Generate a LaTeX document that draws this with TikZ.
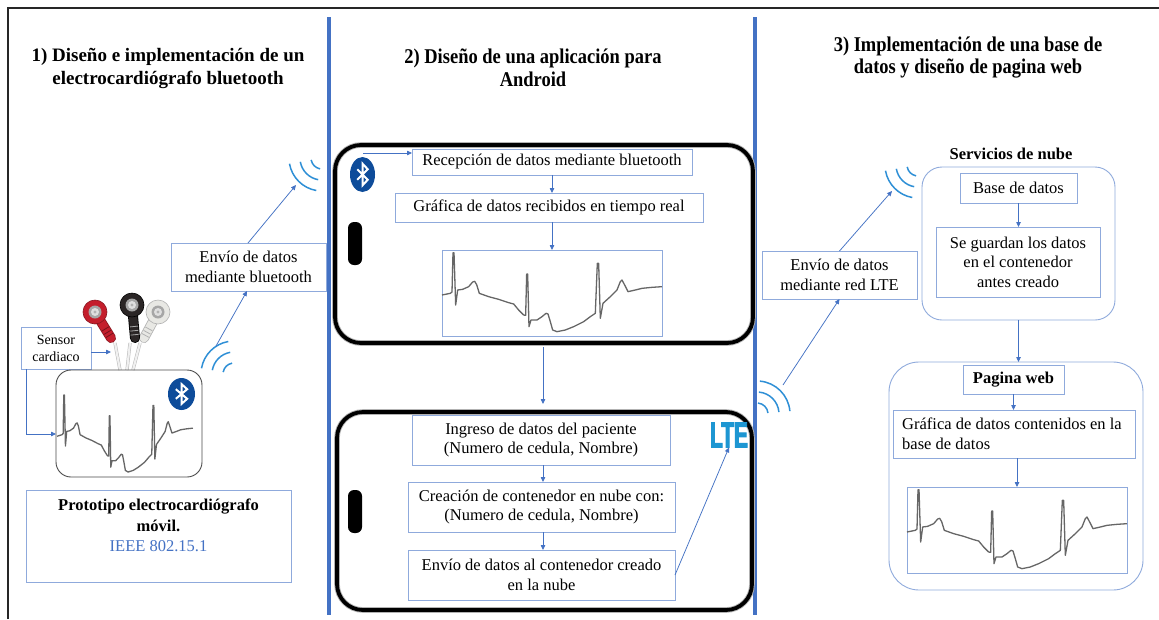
\documentclass[tikz,border=0pt]{standalone}
\usepackage{fontspec}
\setmainfont{Liberation Serif}
\newfontfamily\condserif[FakeStretch=0.88]{Liberation Serif}
\newfontfamily\ltesans[FakeStretch=0.58,BoldFeatures={FakeBold=2.5}]{Liberation Sans}
\usetikzlibrary{arrows.meta}

\definecolor{divblue}{HTML}{4472C4}
\definecolor{boxblue}{HTML}{8FAADC}
\definecolor{arrblue}{HTML}{4472C4}
\definecolor{waveblue}{HTML}{2E8FD6}
\definecolor{btblue}{HTML}{0E4C9A}
\definecolor{ecggray}{HTML}{666666}
\definecolor{ltecyan}{HTML}{1D96D2}
\definecolor{snapred}{HTML}{C41E2C}
\definecolor{snapblack}{HTML}{2B2626}
\definecolor{snapwhite}{HTML}{E8E8E4}

\newcommand\bodyfont{\fontsize{16.5}{19.5}\selectfont}
\newcommand\sensorfont{\fontsize{14}{17}\selectfont}
\newcommand\titlefont{\fontsize{19}{23}\selectfont\bfseries}
\newcommand\titlefontc{\condserif\fontsize{21}{22.5}\selectfont\bfseries}

% three concentric signal arcs: centre x, centre y, start angle, end angle
\newcommand\waveicon[4]{%
  \foreach \r in {11,22,33}{\draw[wave] (#1,#2) ++(#3:\r) arc[start angle=#3,end angle=#4,radius=\r];}}

% bluetooth badge: centre x, centre y, half width, half height
\newcommand\btlogo[4]{%
  \begin{scope}[shift={(#1,#2)},x=#3pt,y=#4pt]
    \fill[btblue] (0,0) circle[radius=1];
    \draw[white,line width=2pt,line join=miter,miter limit=4]
      (-0.42,0.3) -- (0.42,-0.3) -- (0,-0.62) -- (0,0.62) -- (0.42,0.3) -- (-0.42,-0.3);
  \end{scope}}

% snap electrode: head x, head y, neck end x, neck end y, colour, outline colour
\newcommand\snaplead[6]{%
  \draw[line width=10pt,#6,line cap=round] (#1,#2) -- (#3,#4);
  \draw[line width=8.4pt,#5,line cap=round] (#1,#2) -- (#3,#4);
  \fill[#5,draw=#6,line width=0.6pt] (#1,#2) circle[radius=12pt];
  \fill[gray!70] (#1,#2) circle[radius=6.5pt];
  \fill[gray!25] (#1,#2) circle[radius=4pt];
  \fill[gray!60] (#1,#2) circle[radius=1.6pt];}

\tikzset{
  ecgcurve/.pic={
    \draw[ecgline] (0,135) -- (25,130) -- (30,126) -- (33,8) -- (36,8) -- (41,165) -- (47,120)
      -- (62,118) -- (80,110) -- (92,96) -- (98,94) -- (104,104) -- (112,130) -- (140,140)
      -- (170,148) -- (200,158) -- (215,162) -- (230,180) -- (245,195) -- (251,196)
      -- (254,72) -- (257,72) -- (261,230) -- (267,210) -- (285,210) -- (300,200)
      -- (312,190) -- (318,192) -- (325,215) -- (332,240) -- (345,245) -- (370,240)
      -- (395,230) -- (425,215) -- (445,200) -- (460,190) -- (466,40) -- (470,40)
      -- (475,205) -- (483,160) -- (505,140) -- (525,120) -- (535,95) -- (540,90)
      -- (548,105) -- (558,125) -- (580,120) -- (600,115) -- (630,112) -- (660,110);
  }
}

\begin{document}
\begin{tikzpicture}[x=1pt,y=-1pt,
  box/.style={draw=boxblue,line width=0.8pt,inner sep=0pt,outer sep=0pt,align=center,font=\bodyfont},
  frame/.style={draw=boxblue,line width=0.9pt,inner sep=0pt,outer sep=0pt},
  flow/.style={draw=arrblue,line width=0.75pt,-{Triangle[length=5pt,width=4.5pt]}},
  wave/.style={draw=waveblue,line width=1.5pt},
  ecgline/.style={draw=ecggray,line width=1.3pt,line join=round},
  ridge/.style={line width=0.8pt},
  phone/.style={draw=black,line width=3.8pt,rounded corners=26pt,inner sep=0pt,outer sep=0pt,
    preaction={draw=black!30,line width=5.6pt}},
  lte/.style={font=\ltesans\bfseries\fontsize{36}{36}\selectfont,text=ltecyan,inner sep=0pt,outer sep=0pt}
]
\useasboundingbox (0,0) rectangle (1159,619);
\fill[white] (0,0) rectangle (1159,619);

% outer frame and column dividers
\draw[line width=1.2pt,black!85] (8,619) -- (8,8) -- (1159,8);
\draw[divblue,line width=4pt] (329,17) -- (329,615);
\draw[divblue,line width=4pt] (755,17) -- (755,615);

% column headings
\node[font=\titlefont,align=center] (t1) at (168,68.5) {1) Diseño e implementación de un\\electrocardiógrafo bluetooth};
\node[font=\titlefontc,align=center] (t2) at (533,68) {2) Diseño de una aplicación para\\Android};
\node[font=\titlefontc,align=center] (t3) at (968,57.5) {3) Implementación de una base de\\datos y diseño de pagina web};

% ---------- column 1: bluetooth ECG device ----------
\node[box,minimum width=155pt,minimum height=48pt] (btsend) at (248.5,267) {Envío de datos\\mediante bluetooth};
\node[box,font=\sensorfont,minimum width=70pt,minimum height=42pt] (sensor) at (56,348) {Sensor\\cardiaco};

% electrode cables
\foreach \a/\b/\c/\d in {115/343/120/370, 130/343/127/370, 140/343/133/370}{
  \draw[line width=3.2pt,gray!55] (\a,\b) -- (\c,\d);
  \draw[line width=2.2pt,gray!12] (\a,\b) -- (\c,\d);
}
\snaplead{95}{312}{111}{338}{snapred}{snapred!70!black}
\draw[ridge,snapred!60!black] (102.0,331.0) -- (108.8,326.8) (104.1,334.4) -- (110.9,330.2) (106.0,337.5) -- (112.8,333.3);
\snaplead{158}{312}{144}{338}{snapwhite}{gray!60}
\draw[ridge,gray!60] (145.4,327) -- (152.4,330.8) (143.6,330.4) -- (150.6,334.2) (141.9,333.5) -- (148.9,337.3);
\snaplead{132}{305}{135}{338}{snapblack}{black}
\draw[ridge,gray!70] (130,326.9) -- (138,326.1) (130.3,331.1) -- (138.3,330.3) (130.7,335.1) -- (138.7,334.3);

\node[draw=black!70,line width=0.9pt,rounded corners=15pt,minimum width=146pt,minimum height=107pt,inner sep=0pt,outer sep=0pt] (dev) at (129,423.5) {};
\begin{scope}[shift={(57,392.4)},x=0.206pt,y=-0.325pt]
  \pic {ecgcurve};
\end{scope}
\btlogo{181.5}{394}{13.5}{16}

\node[box,minimum width=265pt,minimum height=92pt] (proto) at (158.5,536) {};
\node[font=\fontsize{16.5}{20.5}\selectfont,align=center] (prototxt) at (158.5,525.5)
  {\textbf{Prototipo electrocardiógrafo}\\\textbf{móvil.}\\\textcolor{divblue}{IEEE 802.15.1}};

\waveicon{234}{374}{190}{260}
\waveicon{322}{158}{100}{170}
\coordinate (w1tail) at (216,346);
\coordinate (w2tip) at (296,185);

\coordinate (cablehit) at (111,352);
\draw[flow] (sensor.east |- cablehit) -- (cablehit);
\draw[flow] ([xshift=5pt]sensor.south west) |- ([yshift=-10.5pt]dev.west);
\draw[flow] (w1tail) -- ([xshift=-1.5pt]btsend.south);
\draw[flow] ([xshift=-0.5pt]btsend.north) -- (w2tip);

% ---------- column 2: Android application ----------
\node[phone,minimum width=418pt,minimum height=198pt] (ph1) at (544,244) {};
\node[phone,minimum width=415pt,minimum height=198pt] (ph2) at (544.5,511) {};
\fill[black,rounded corners=6pt] (348,222) rectangle (362,265);
\fill[black,rounded corners=6pt] (348,490) rectangle (362,533);
\btlogo{362.5}{174.5}{12.5}{17.5}

\node[box,minimum width=280pt,minimum height=26pt] (recv) at (552,162) {Recepción de datos mediante bluetooth};
\node[box,minimum width=308pt,minimum height=29pt] (graf1) at (549,207.5) {Gráfica de datos recibidos en tiempo real};
\node[frame,minimum width=220pt,minimum height=86pt] (ecg1) at (552,293) {};
\begin{scope}[shift={(442,250)},x=0.3333pt,y=-0.3333pt]
  \pic {ecgcurve};
\end{scope}

\node[box,minimum width=258pt,minimum height=50pt] (ingreso) at (541,440) {Ingreso de datos del paciente\\(Numero de cedula, Nombre)};
\node[box,minimum width=267pt,minimum height=50pt] (creacion) at (541.5,507) {Creación de contenedor en nube con:\\(Numero de cedula, Nombre)};
\node[box,minimum width=267pt,minimum height=50pt] (envio) at (541.5,575) {Envío de datos al contenedor creado\\en la nube};
\node[lte] (lte) at (729,435) {LTE};

\coordinate (bttop) at (363,153);
\draw[flow] (bttop) -- (recv.west |- bttop);
\draw[flow] (recv.south) -- (recv.south |- graf1.north);
\draw[flow] (recv.south |- graf1.south) -- (recv.south |- ecg1.north);
\draw[flow] ([xshift=-1pt,yshift=-4pt]ph1.south) -- ([xshift=-1.5pt,yshift=8pt]ph2.north);
\draw[flow] ([xshift=2pt]ingreso.south) -- ([xshift=2pt]ingreso.south |- creacion.north);
\draw[flow] ([xshift=1.5pt]creacion.south) -- ([xshift=1.5pt]creacion.south |- envio.north);
\draw[flow] (envio.east) -- (lte.south);

% ---------- column 3: cloud database and web page ----------
\node[box,minimum width=155pt,minimum height=48pt] (ltesend) at (839.5,275) {Envío de datos\\mediante red LTE};
\node[frame,rounded corners=20pt,minimum width=193pt,minimum height=153pt] (cloud) at (1018.5,243.5) {};
\node[font=\bodyfont\bfseries] (cloudlbl) at (1011,154) {Servicios de nube};
\node[box,minimum width=117pt,minimum height=30pt] (base) at (1018.5,188) {Base de datos};
\node[box,minimum width=164pt,minimum height=70pt] (guardan) at (1018,262) {Se guardan los datos\\en el contenedor\\antes creado};

\node[frame,rounded corners=30pt,minimum width=254pt,minimum height=228pt] (web) at (1016,476) {};
\node[box,font=\bodyfont\bfseries,minimum width=101pt,minimum height=29pt] (pagina) at (1013.5,379.5) {Pagina web};
\node[box,minimum width=242pt,minimum height=48pt] (grafweb) at (1014,434) {};
\node[anchor=west,align=left,font=\bodyfont,inner sep=0pt] (grafwebtxt) at (902,434) {Gráfica de datos contenidos en la\\base de datos};
\node[frame,minimum width=220pt,minimum height=86pt] (ecg3) at (1017,530) {};
\begin{scope}[shift={(907,487)},x=0.3333pt,y=-0.3333pt]
  \pic {ecgcurve};
\end{scope}

\waveicon{757}{414}{275}{355}
\waveicon{918}{165}{100}{170}
\coordinate (w3tail) at (783,385);
\coordinate (w4tip) at (892,191);

\draw[flow] (w3tail) -- (ltesend.south);
\draw[flow] (ltesend.north) -- (w4tip);
\draw[flow] (base.south) -- (base.south |- guardan.north);
\draw[flow] (cloud.south) -- (cloud.south |- web.north);
\draw[flow] (pagina.south) -- (pagina.south |- grafweb.north);
\draw[flow] (ecg3.north |- grafweb.south) -- (ecg3.north);
\end{tikzpicture}
\end{document}
